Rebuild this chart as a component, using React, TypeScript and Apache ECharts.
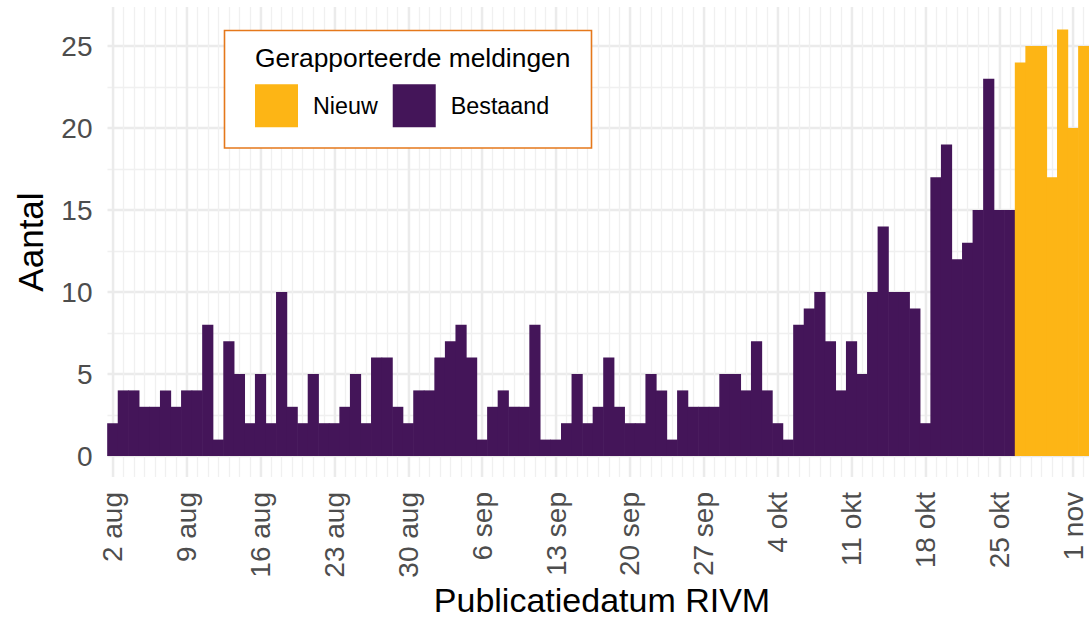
import React, { useEffect, useRef } from "react";
import * as echarts from "echarts";

// Publication days: 2 aug .. 2 nov
const MONTHS = ["aug", "sep", "okt", "nov"];
const MONTH_DAYS = [31, 30, 31, 30];
const FIRST_DAY = 2;
const DAY_COUNT = 93;

const dates: string[] = (() => {
  const out: string[] = [];
  let m = 0;
  let d = FIRST_DAY;
  for (let i = 0; i < DAY_COUNT; i++) {
    out.push(`${d} ${MONTHS[m]}`);
    d++;
    if (d > MONTH_DAYS[m]) {
      d = 1;
      m++;
    }
  }
  return out;
})();

// Bestaand (existing) reports, 2 aug .. 26 okt
const bestaand = [
  2, 4, 4, 3, 3, 4, 3, 4, 4, 8, 1, 7, 5, 2, 5, 2, 10, 3, 2, 5,
  2, 2, 3, 5, 2, 6, 6, 3, 2, 4, 4, 6, 7, 8, 6, 1, 3, 4, 3,
  3, 8, 1, 1, 2, 5, 2, 3, 6, 3, 2, 2, 5, 4, 1, 4, 3, 3, 3,
  5, 5, 4, 7, 4, 2, 1, 8, 9, 10, 7, 4, 7, 5, 10, 14, 10, 10, 9, 2,
  17, 19, 12, 13, 15, 23, 15, 15,
];
// Nieuw (new) reports, 27 okt .. 2 nov
const nieuw = [24, 25, 25, 17, 26, 20, 25];

const yTicks = [0, 5, 10, 15, 20, 25];

const FONT = "'Liberation Sans', Arial, Helvetica, sans-serif";
const PURPLE = "#441559";
const YELLOW = "#FDB515";

export default function App() {
  const ref = useRef<HTMLDivElement>(null);

  useEffect(() => {
    if (!ref.current) return;
    const chart = echarts.init(ref.current, undefined, { renderer: "svg" });

    const bestaandData = dates.map((_, i) => (i < bestaand.length ? bestaand[i] : "-"));
    const nieuwData = dates.map((_, i) =>
      i >= bestaand.length && i - bestaand.length < nieuw.length ? nieuw[i - bestaand.length] : "-"
    );

    const band = 10.61;
    const left = 107.5;
    const width = band * dates.length;

    const option: any = {
      animation: false,
      backgroundColor: "#ffffff",
      grid: [
        { left, top: 46, width, height: 410, containLabel: false },
        { left, top: 7, width, height: 470, containLabel: false },
      ],
      xAxis: [
        {
          type: "category",
          gridIndex: 0,
          data: dates,
          position: "bottom",
          axisLine: { show: false },
          axisTick: { show: false },
          axisLabel: { show: false },
          splitLine: { show: false },
        },
        {
          type: "category",
          gridIndex: 1,
          data: dates,
          position: "bottom",
          axisLine: { show: false },
          axisTick: { show: false },
          axisLabel: { show: false },
          splitLine: {
            show: true,
            interval: 0,
            alignWithLabel: true,
            lineStyle: { color: "#F0F0F0", width: 1.3 },
          },
        },
        {
          type: "category",
          gridIndex: 1,
          data: dates,
          position: "bottom",
          axisLine: { show: false },
          axisTick: { show: false },
          axisLabel: {
            show: true,
            interval: 6,
            rotate: 90,
            margin: 15,
            fontSize: 28,
            color: "#4D4D4D",
            fontFamily: FONT,
          },
          splitLine: {
            show: true,
            interval: 6,
            alignWithLabel: true,
            lineStyle: { color: "#EBEBEB", width: 2.4 },
          },
        },
      ],
      yAxis: [
        {
          type: "value",
          gridIndex: 0,
          min: yTicks[0],
          max: yTicks[yTicks.length - 1],
          interval: 5,
          axisLine: { show: false },
          axisTick: { show: false },
          axisLabel: {
            margin: 15,
            fontSize: 28,
            color: "#4D4D4D",
            fontFamily: FONT,
          },
          splitLine: { show: true, lineStyle: { color: "#EBEBEB", width: 2.4 } },
          minorTick: { show: false, splitNumber: 2 },
          minorSplitLine: { show: true, lineStyle: { color: "#F0F0F0", width: 1.3 } },
        },
        {
          type: "value",
          gridIndex: 1,
          min: 0,
          max: 1,
          show: false,
        },
      ],
      legend: {
        data: ["Nieuw", "Bestaand"],
        left: 255,
        top: 84.3,
        orient: "horizontal",
        itemWidth: 43,
        itemHeight: 43,
        itemGap: 15,
        padding: 0,
        icon: "rect",
        selectedMode: false,
        z: 10,
        textStyle: {
          fontSize: 23.3,
          color: "#000000",
          fontFamily: FONT,
          padding: [0, 0, 0, 10],
        },
      },
      graphic: [
        {
          type: "rect",
          z: 8,
          shape: { x: 224.5, y: 30.5, width: 367, height: 117.5 },
          style: { fill: "#ffffff", stroke: "#E5781B", lineWidth: 1.6 },
        },
        {
          type: "text",
          z: 10,
          x: 255,
          y: 58,
          style: {
            text: "Gerapporteerde meldingen",
            fontSize: 26.4,
            fontFamily: FONT,
            fill: "#000000",
            align: "left",
            verticalAlign: "middle",
            textAlign: "left",
            textVerticalAlign: "middle",
          },
        },
        {
          type: "text",
          z: 10,
          x: 30,
          y: 242,
          rotation: Math.PI / 2,
          style: {
            text: "Aantal",
            fontSize: 35,
            fontFamily: FONT,
            fill: "#000000",
            align: "center",
            verticalAlign: "middle",
            textAlign: "center",
            textVerticalAlign: "middle",
          },
        },
        {
          type: "text",
          z: 10,
          x: 602,
          y: 599.5,
          style: {
            text: "Publicatiedatum RIVM",
            fontSize: 34,
            fontFamily: FONT,
            fill: "#000000",
            align: "center",
            verticalAlign: "middle",
            textAlign: "center",
            textVerticalAlign: "middle",
          },
        },
      ],
      series: [
        {
          name: "Bestaand",
          type: "bar",
          xAxisIndex: 0,
          yAxisIndex: 0,
          stack: "total",
          data: bestaandData,
          barWidth: "106%",
          clip: false,
          itemStyle: { color: PURPLE },
          emphasis: { disabled: true },
        },
        {
          name: "Nieuw",
          type: "bar",
          xAxisIndex: 0,
          yAxisIndex: 0,
          stack: "total",
          data: nieuwData,
          barWidth: "106%",
          clip: false,
          itemStyle: { color: YELLOW },
          emphasis: { disabled: true },
        },
      ],
    };

    chart.setOption(option);
    return () => chart.dispose();
  }, []);

  return (
    <div
      ref={ref}
      style={{ position: "fixed", left: 0, top: 0, width: 1089, height: 619, background: "#fff" }}
    />
  );
}
